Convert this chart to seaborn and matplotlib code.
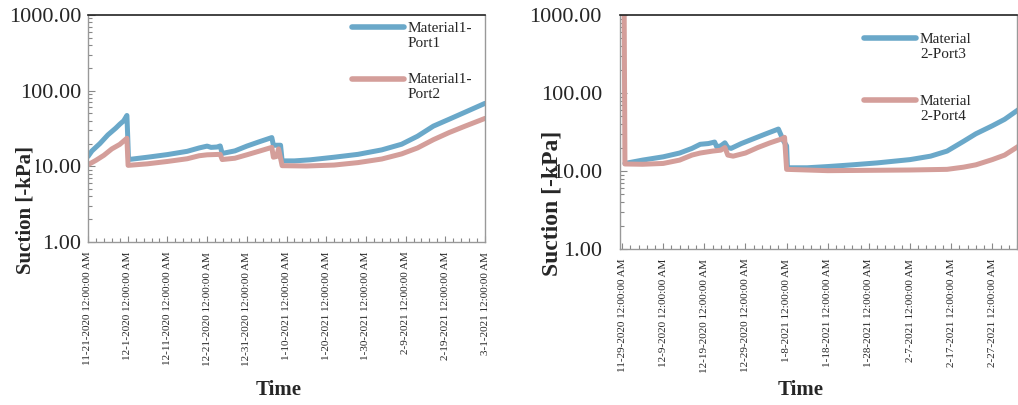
import matplotlib
matplotlib.use('Agg')
import matplotlib.pyplot as plt
import matplotlib.dates as mdates
from matplotlib.ticker import FixedLocator, FuncFormatter, LogLocator, NullFormatter
import pandas as pd
import seaborn as sns

# Values (days since the first date, suction in -kPa)
start_1 = '2020-11-21'
start_2 = '2020-11-29'

port1_days = [0, 1, 3, 5, 7, 8, 9, 9.8, 10.0, 10.2, 15, 20, 25, 28, 30, 31, 32.5, 33.3, 33.8,
              37, 40, 43, 46.3, 46.7, 48.5, 48.9, 52, 56, 62, 68, 74, 79, 83, 87, 91, 95, 100]
port1_vals = [13.5, 16, 20, 26, 32, 36, 40, 47, 25, 12.3, 13.2, 14.3, 15.8, 17.5, 18.5, 17.8, 18, 18.6, 14.8,
              16, 18.5, 21, 24, 19, 19, 11.8, 11.8, 12.2, 13.2, 14.4, 16.5, 19.6, 25, 34, 42, 52, 68]

port2_days = [0, 2, 4, 6, 8, 9.8, 10.1, 15, 20, 25, 28, 30, 33.3, 33.8, 37, 40, 43, 46.3, 46.7,
              47.5, 48, 48.9, 55, 62, 68, 74, 79, 83, 87, 91, 95, 100]
port2_vals = [10.5, 12, 14, 17, 19.5, 23.5, 10.3, 10.8, 11.6, 12.6, 13.8, 14.2, 14.4, 12.3, 12.8, 14.2, 15.8, 17.8, 13.2,
              13.5, 17, 10.2, 10.1, 10.4, 11.2, 12.5, 14.6, 17.5, 22.5, 28, 34, 43]

port3_days = [0.7, 5, 10, 14, 17, 19, 21, 22.5, 23, 24, 25, 25.7, 26.5, 29, 32, 35, 38, 39.3, 40, 40.2,
              45, 50, 56, 62, 70, 75, 79, 83, 86, 90, 93, 96.5]
port3_vals = [12.5, 13.8, 15.2, 17, 19.5, 22, 22.5, 23.5, 20.5, 21, 23, 20, 19.5, 22.5, 26, 30, 34.5, 24, 21, 11,
              11, 11.4, 12, 12.7, 14, 15.5, 18, 24, 30, 38, 46, 62]

port4_days = [0.5, 0.7, 5, 10, 14, 17, 19, 22, 24, 25, 25.7, 27, 30, 33, 36, 39, 39.5, 40,
              45, 50, 60, 70, 79, 83, 86, 90, 93, 96.5]
port4_vals = [1500, 12.3, 12.2, 12.5, 13.8, 16, 17, 18, 18.5, 20, 16, 15.5, 17, 20, 23, 26, 27, 10.5,
              10.3, 10.1, 10.2, 10.3, 10.5, 11.2, 12, 14, 16, 21]

labels_1 = ['Material1-\nPort1', 'Material1-\nPort2']
labels_2 = ['Material\n2-Port3', 'Material\n2-Port4']
y_ticks = [1, 10, 100, 1000]

blue = '#6aa8c9'
pink = '#d49e9a'


def make_frame(start, days, vals, name):
    t = pd.to_datetime(start) + pd.to_timedelta(days, unit='D')
    return pd.DataFrame({'time': t, 'suction': vals, 'series': name})


def date_label(x, pos):
    d = mdates.num2date(x)
    return f'{d.month}-{d.day}-{d.year} 12:00:00 AM'


sns.set_style('white')
plt.rcParams['font.family'] = ['Liberation Serif', 'DejaVu Serif']

fig = plt.figure(figsize=(10.18, 4.05), dpi=100)
ax1 = fig.add_axes([88 / 1018, 1 - 242 / 405, 397 / 1018, 227 / 405])
ax2 = fig.add_axes([620 / 1018, 1 - 249 / 405, 397 / 1018, 234 / 405])

df1 = pd.concat([make_frame(start_1, port1_days, port1_vals, labels_1[0]),
                 make_frame(start_1, port2_days, port2_vals, labels_1[1])])
df2 = pd.concat([make_frame(start_2, port3_days, port3_vals, labels_2[0]),
                 make_frame(start_2, port4_days, port4_vals, labels_2[1])])

panels = [
    (ax1, df1, labels_1, start_1, 0.0, 100, 11, 5, (0.665, 0.97), 1.55),
    (ax2, df2, labels_2, start_2, -0.5, 96, 10, 13, (0.615, 0.925), 2.25),
]

for ax, df, labels, start, x0, x1, nticks, ypad, anchor, lspace in panels:
    sns.lineplot(data=df, x='time', y='suction', hue='series', hue_order=labels,
                 palette=[blue, pink], linewidth=3.6, estimator=None, sort=False, ax=ax)
    ax.set_yscale('log')
    ax.set_ylim(1, 1000)
    t0 = pd.to_datetime(start)
    ax.set_xlim(mdates.date2num(t0 + pd.Timedelta(days=x0)), mdates.date2num(t0 + pd.Timedelta(days=x1)))

    major = pd.date_range(t0, periods=nticks, freq='10D')
    minor = pd.date_range(t0, periods=60, freq='2D')
    ax.xaxis.set_major_locator(FixedLocator(mdates.date2num(major.to_pydatetime())))
    ax.xaxis.set_minor_locator(FixedLocator(mdates.date2num(minor.to_pydatetime())))
    ax.xaxis.set_major_formatter(FuncFormatter(date_label))
    ax.tick_params(axis='x', which='major', direction='in', length=4, width=0.8, color='#888888',
                   labelsize=8, labelrotation=90, pad=7, bottom=True)
    ax.tick_params(axis='x', which='minor', direction='in', length=3, width=0.8, color='#888888', bottom=True)

    ax.yaxis.set_major_locator(FixedLocator(y_ticks))
    ax.yaxis.set_major_formatter(FuncFormatter(lambda v, p: f'{v:.2f}'))
    ax.yaxis.set_minor_locator(LogLocator(base=10, subs=range(2, 10)))
    ax.yaxis.set_minor_formatter(NullFormatter())
    ax.tick_params(axis='y', which='major', direction='in', length=5, width=0.8, color='#888888',
                   labelsize=16, pad=ypad, left=True)
    ax.tick_params(axis='y', which='minor', direction='in', length=3, width=0.8, color='#888888', left=True)

    for side in ['left', 'bottom', 'right']:
        ax.spines[side].set_color('#999999')
        ax.spines[side].set_linewidth(1.0)
    ax.spines['top'].set_color('#222222')
    ax.spines['top'].set_linewidth(1.2)

    ax.set_xlabel('Time', fontsize=15, fontweight='bold', va='top')

    handles, _ = ax.get_legend_handles_labels()
    leg = ax.legend(handles, labels, loc='upper left', bbox_to_anchor=anchor, frameon=False,
                    fontsize=11, handlelength=3.4, handletextpad=0.25, labelspacing=lspace,
                    borderpad=0, borderaxespad=0)
    for line in leg.get_lines():
        line.set_linewidth(4)
    for col in leg._legend_handle_box.get_children():
        for item in col.get_children():
            item.align = 'top'

ax1.set_ylabel('Suction [-kPa]', fontsize=15, fontweight='bold')
ax2.set_ylabel('Suction [-kPa]', fontsize=17, fontweight='bold')
ax1.xaxis.set_label_coords(0.48, -0.61)
ax2.xaxis.set_label_coords(0.455, -0.56)
ax1.yaxis.set_label_coords(-0.131, 0.141)
ax2.yaxis.set_label_coords(-0.146, 0.194)
ax1.yaxis.label.set_bbox(dict(facecolor='white', edgecolor='none', pad=0))

fig.savefig('out.png', dpi=100)
